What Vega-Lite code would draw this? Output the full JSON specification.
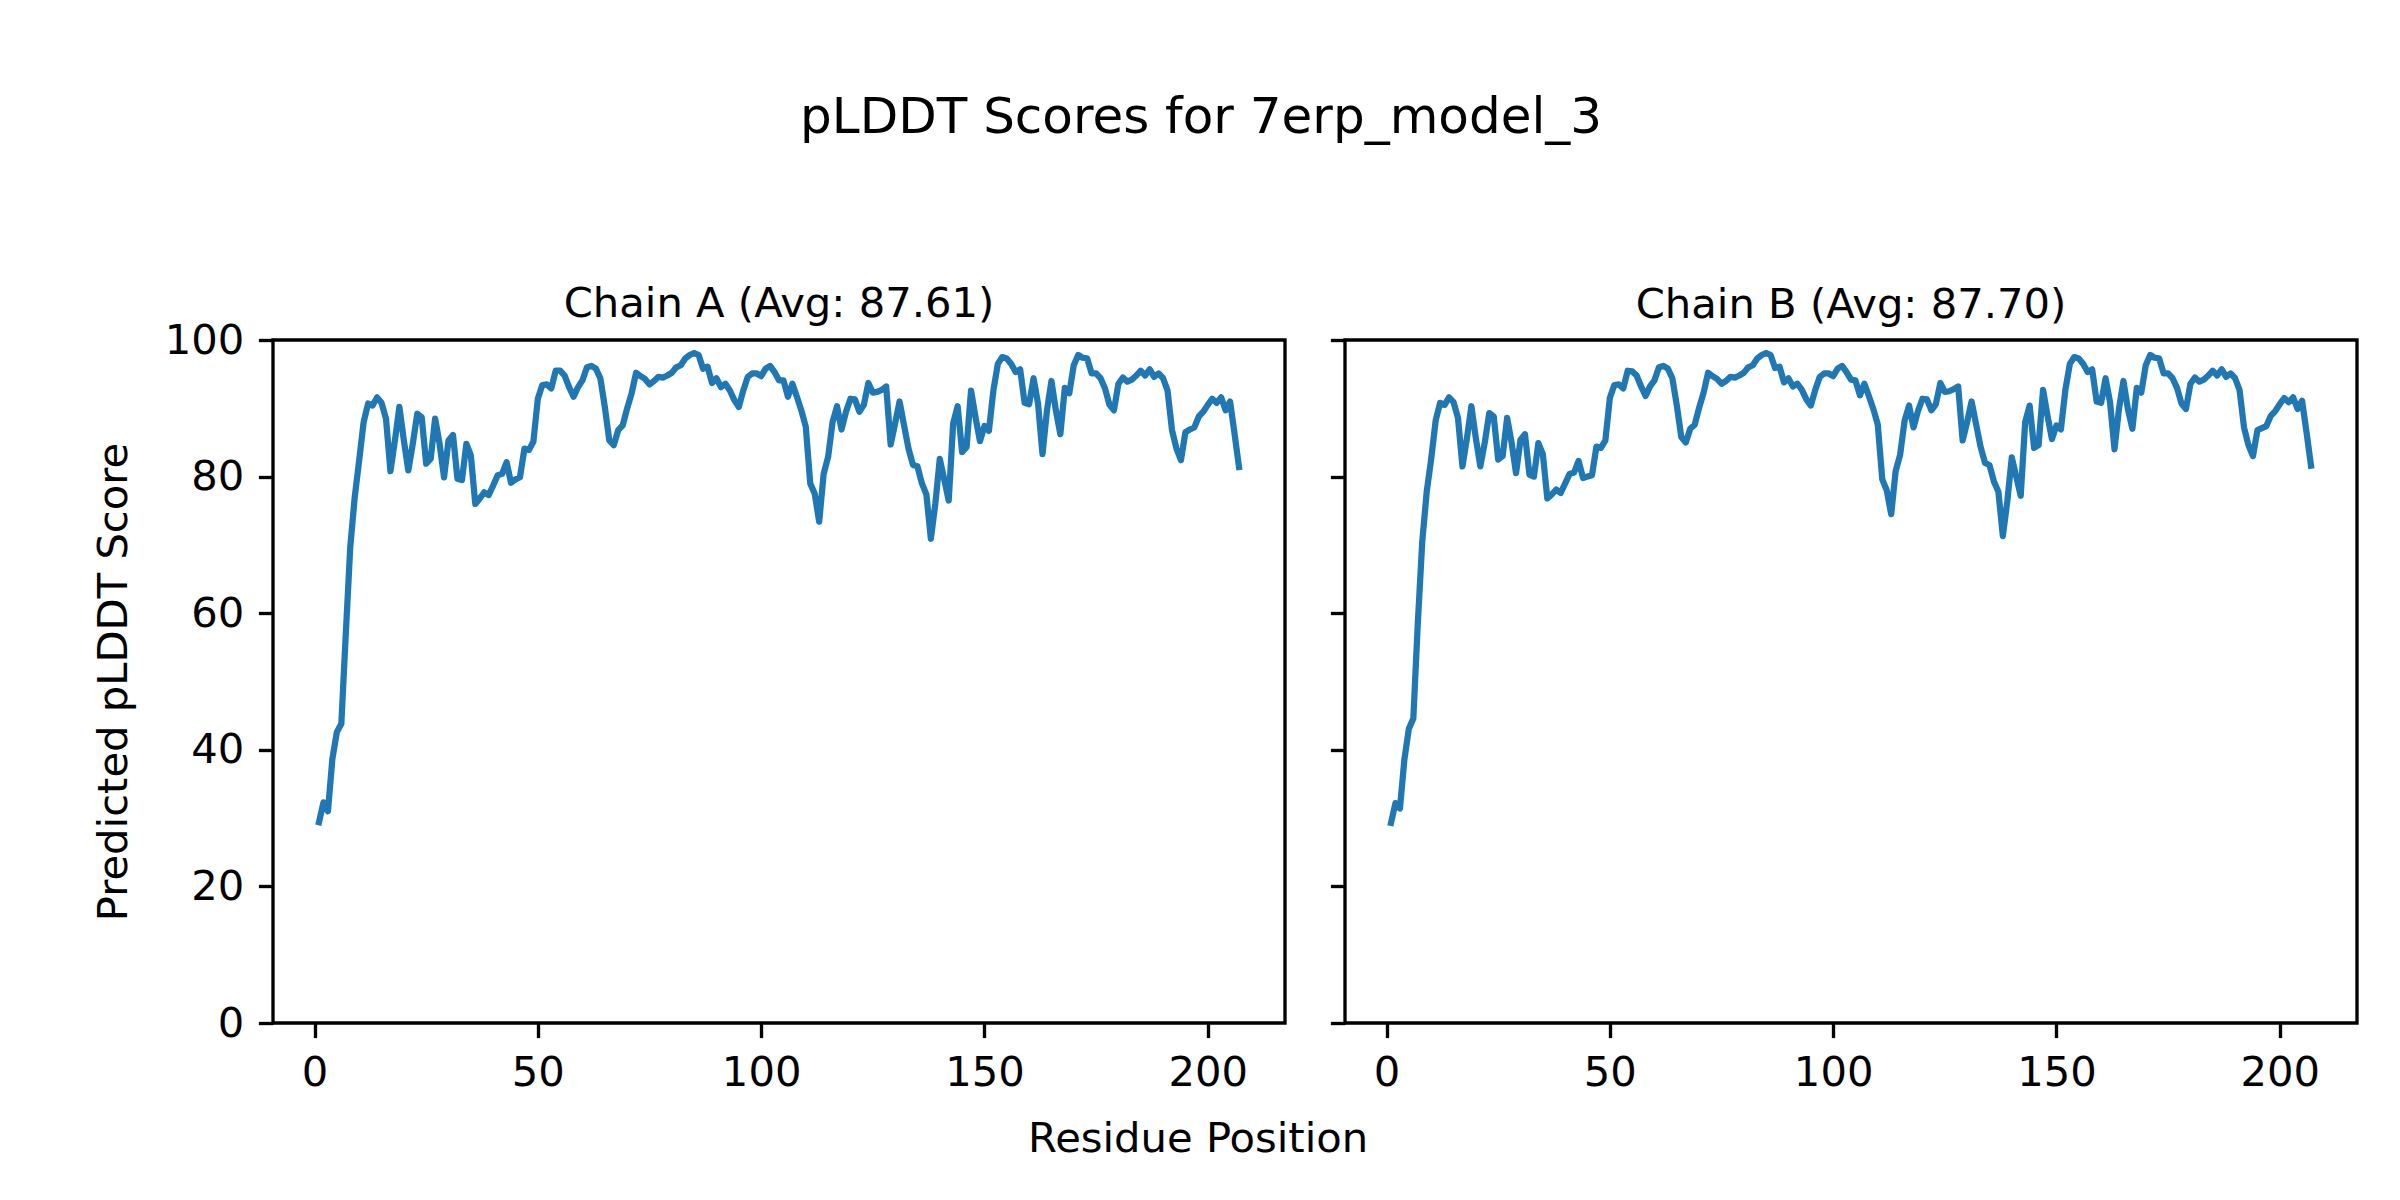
{
  "$schema": "https://vega.github.io/schema/vega-lite/v6.json",
  "background": "white",
  "padding": {"left": 91, "top": 92, "right": 10, "bottom": 10},
  "title": {"text": "pLDDT Scores for 7erp_model_3", "fontSize": 50, "font": "DejaVu Sans", "fontWeight": "normal", "color": "black", "anchor": "middle", "offset": 140, "dx": -24},
  "config": {
    "font": "DejaVu Sans",
    "view": {"stroke": "black", "strokeWidth": 3.33},
    "axis": {"domain": false, "grid": false, "ticks": true, "tickSize": 14.6, "tickWidth": 3.33, "tickColor": "black", "labelFontSize": 41.7, "labelColor": "black", "labelPadding": 14.6, "labelFlush": false, "titleFontSize": 41.7, "titleFontWeight": "normal", "titleColor": "black", "labelFont": "DejaVu Sans", "titleFont": "DejaVu Sans"},
    "title": {"fontSize": 41.7, "fontWeight": "normal", "color": "black", "font": "DejaVu Sans"}
  },
  "datasets": {
    "chainA": [
      {"residue":1,"plddt":29.4},{"residue":2,"plddt":32.3},{"residue":3,"plddt":31.0},{"residue":4,"plddt":38.7},{"residue":5,"plddt":42.6},{"residue":6,"plddt":43.8},{"residue":7,"plddt":57.0},{"residue":8,"plddt":69.7},{"residue":9,"plddt":77.0},{"residue":10,"plddt":82.4},
      {"residue":11,"plddt":88.0},{"residue":12,"plddt":90.7},{"residue":13,"plddt":90.4},{"residue":14,"plddt":91.6},{"residue":15,"plddt":90.8},{"residue":16,"plddt":88.5},{"residue":17,"plddt":80.8},{"residue":18,"plddt":85.3},{"residue":19,"plddt":90.2},{"residue":20,"plddt":85.3},
      {"residue":21,"plddt":80.9},{"residue":22,"plddt":84.8},{"residue":23,"plddt":89.2},{"residue":24,"plddt":88.7},{"residue":25,"plddt":81.9},{"residue":26,"plddt":82.6},{"residue":27,"plddt":88.5},{"residue":28,"plddt":84.8},{"residue":29,"plddt":79.9},{"residue":30,"plddt":85.3},
      {"residue":31,"plddt":86.1},{"residue":32,"plddt":79.7},{"residue":33,"plddt":79.5},{"residue":34,"plddt":84.8},{"residue":35,"plddt":83.1},{"residue":36,"plddt":76.0},{"residue":37,"plddt":76.8},{"residue":38,"plddt":77.7},{"residue":39,"plddt":77.3},{"residue":40,"plddt":78.7},
      {"residue":41,"plddt":80.2},{"residue":42,"plddt":80.4},{"residue":43,"plddt":82.1},{"residue":44,"plddt":79.1},{"residue":45,"plddt":79.6},{"residue":46,"plddt":79.9},{"residue":47,"plddt":84.1},{"residue":48,"plddt":83.9},{"residue":49,"plddt":85.1},{"residue":50,"plddt":91.4},
      {"residue":51,"plddt":93.4},{"residue":52,"plddt":93.5},{"residue":53,"plddt":92.9},{"residue":54,"plddt":95.5},{"residue":55,"plddt":95.5},{"residue":56,"plddt":94.8},{"residue":57,"plddt":93.1},{"residue":58,"plddt":91.7},{"residue":59,"plddt":93.1},{"residue":60,"plddt":94.1},
      {"residue":61,"plddt":96.0},{"residue":62,"plddt":96.2},{"residue":63,"plddt":95.8},{"residue":64,"plddt":94.4},{"residue":65,"plddt":90.2},{"residue":66,"plddt":85.3},{"residue":67,"plddt":84.6},{"residue":68,"plddt":86.8},{"residue":69,"plddt":87.5},{"residue":70,"plddt":90.0},
      {"residue":71,"plddt":92.2},{"residue":72,"plddt":95.2},{"residue":73,"plddt":94.7},{"residue":74,"plddt":94.3},{"residue":75,"plddt":93.5},{"residue":76,"plddt":94.0},{"residue":77,"plddt":94.6},{"residue":78,"plddt":94.5},{"residue":79,"plddt":94.8},{"residue":80,"plddt":95.2},
      {"residue":81,"plddt":96.0},{"residue":82,"plddt":96.3},{"residue":83,"plddt":97.3},{"residue":84,"plddt":97.8},{"residue":85,"plddt":98.1},{"residue":86,"plddt":97.8},{"residue":87,"plddt":95.8},{"residue":88,"plddt":96.1},{"residue":89,"plddt":93.7},{"residue":90,"plddt":94.4},
      {"residue":91,"plddt":93.1},{"residue":92,"plddt":93.6},{"residue":93,"plddt":92.6},{"residue":94,"plddt":91.2},{"residue":95,"plddt":90.2},{"residue":96,"plddt":92.6},{"residue":97,"plddt":94.6},{"residue":98,"plddt":95.1},{"residue":99,"plddt":95.1},{"residue":100,"plddt":94.7},
      {"residue":101,"plddt":95.8},{"residue":102,"plddt":96.2},{"residue":103,"plddt":95.3},{"residue":104,"plddt":94.1},{"residue":105,"plddt":94.1},{"residue":106,"plddt":91.7},{"residue":107,"plddt":93.6},{"residue":108,"plddt":91.7},{"residue":109,"plddt":89.7},{"residue":110,"plddt":87.3},
      {"residue":111,"plddt":79.0},{"residue":112,"plddt":77.5},{"residue":113,"plddt":73.4},{"residue":114,"plddt":80.4},{"residue":115,"plddt":82.9},{"residue":116,"plddt":88.0},{"residue":117,"plddt":90.3},{"residue":118,"plddt":86.9},{"residue":119,"plddt":89.5},{"residue":120,"plddt":91.4},
      {"residue":121,"plddt":91.3},{"residue":122,"plddt":89.5},{"residue":123,"plddt":90.5},{"residue":124,"plddt":93.7},{"residue":125,"plddt":92.3},{"residue":126,"plddt":92.4},{"residue":127,"plddt":92.7},{"residue":128,"plddt":93.2},{"residue":129,"plddt":84.7},{"residue":130,"plddt":87.8},
      {"residue":131,"plddt":91.0},{"residue":132,"plddt":87.5},{"residue":133,"plddt":84.1},{"residue":134,"plddt":81.7},{"residue":135,"plddt":81.5},{"residue":136,"plddt":79.0},{"residue":137,"plddt":77.4},{"residue":138,"plddt":70.9},{"residue":139,"plddt":76.0},{"residue":140,"plddt":82.6},
      {"residue":141,"plddt":79.6},{"residue":142,"plddt":76.5},{"residue":143,"plddt":87.8},{"residue":144,"plddt":90.3},{"residue":145,"plddt":83.6},{"residue":146,"plddt":84.3},{"residue":147,"plddt":92.6},{"residue":148,"plddt":88.7},{"residue":149,"plddt":85.2},{"residue":150,"plddt":87.4},
      {"residue":151,"plddt":86.7},{"residue":152,"plddt":92.6},{"residue":153,"plddt":96.5},{"residue":154,"plddt":97.5},{"residue":155,"plddt":97.3},{"residue":156,"plddt":96.5},{"residue":157,"plddt":95.3},{"residue":158,"plddt":95.7},{"residue":159,"plddt":90.8},{"residue":160,"plddt":90.6},
      {"residue":161,"plddt":94.4},{"residue":162,"plddt":90.7},{"residue":163,"plddt":83.3},{"residue":164,"plddt":89.7},{"residue":165,"plddt":94.0},{"residue":166,"plddt":89.7},{"residue":167,"plddt":86.2},{"residue":168,"plddt":93.0},{"residue":169,"plddt":92.2},{"residue":170,"plddt":96.3},
      {"residue":171,"plddt":97.8},{"residue":172,"plddt":97.4},{"residue":173,"plddt":97.3},{"residue":174,"plddt":95.1},{"residue":175,"plddt":95.1},{"residue":176,"plddt":94.4},{"residue":177,"plddt":92.9},{"residue":178,"plddt":90.5},{"residue":179,"plddt":89.7},{"residue":180,"plddt":93.6},
      {"residue":181,"plddt":94.5},{"residue":182,"plddt":93.9},{"residue":183,"plddt":94.2},{"residue":184,"plddt":94.8},{"residue":185,"plddt":95.5},{"residue":186,"plddt":94.8},{"residue":187,"plddt":95.7},{"residue":188,"plddt":94.6},{"residue":189,"plddt":95.1},{"residue":190,"plddt":94.4},
      {"residue":191,"plddt":92.6},{"residue":192,"plddt":86.8},{"residue":193,"plddt":84.1},{"residue":194,"plddt":82.4},{"residue":195,"plddt":86.5},{"residue":196,"plddt":86.9},{"residue":197,"plddt":87.2},{"residue":198,"plddt":88.8},{"residue":199,"plddt":89.5},{"residue":200,"plddt":90.5},
      {"residue":201,"plddt":91.4},{"residue":202,"plddt":90.8},{"residue":203,"plddt":91.6},{"residue":204,"plddt":89.7},{"residue":205,"plddt":91.0},{"residue":206,"plddt":86.3},{"residue":207,"plddt":81.4}
    ],
    "chainB": [
      {"residue":1,"plddt":29.3},{"residue":2,"plddt":32.2},{"residue":3,"plddt":31.4},{"residue":4,"plddt":38.6},{"residue":5,"plddt":43.1},{"residue":6,"plddt":44.6},{"residue":7,"plddt":58.5},{"residue":8,"plddt":70.5},{"residue":9,"plddt":77.8},{"residue":10,"plddt":82.6},
      {"residue":11,"plddt":88.2},{"residue":12,"plddt":90.8},{"residue":13,"plddt":90.5},{"residue":14,"plddt":91.6},{"residue":15,"plddt":90.9},{"residue":16,"plddt":88.6},{"residue":17,"plddt":81.5},{"residue":18,"plddt":85.6},{"residue":19,"plddt":90.3},{"residue":20,"plddt":85.6},
      {"residue":21,"plddt":81.5},{"residue":22,"plddt":85.0},{"residue":23,"plddt":89.3},{"residue":24,"plddt":88.8},{"residue":25,"plddt":82.5},{"residue":26,"plddt":83.0},{"residue":27,"plddt":88.6},{"residue":28,"plddt":85.0},{"residue":29,"plddt":80.5},{"residue":30,"plddt":85.4},
      {"residue":31,"plddt":86.2},{"residue":32,"plddt":80.3},{"residue":33,"plddt":80.0},{"residue":34,"plddt":84.9},{"residue":35,"plddt":83.3},{"residue":36,"plddt":76.8},{"residue":37,"plddt":77.4},{"residue":38,"plddt":78.1},{"residue":39,"plddt":77.6},{"residue":40,"plddt":79.0},
      {"residue":41,"plddt":80.4},{"residue":42,"plddt":80.6},{"residue":43,"plddt":82.3},{"residue":44,"plddt":79.8},{"residue":45,"plddt":80.0},{"residue":46,"plddt":80.2},{"residue":47,"plddt":84.4},{"residue":48,"plddt":84.2},{"residue":49,"plddt":85.3},{"residue":50,"plddt":91.5},
      {"residue":51,"plddt":93.4},{"residue":52,"plddt":93.5},{"residue":53,"plddt":92.9},{"residue":54,"plddt":95.5},{"residue":55,"plddt":95.4},{"residue":56,"plddt":94.8},{"residue":57,"plddt":93.2},{"residue":58,"plddt":91.8},{"residue":59,"plddt":93.2},{"residue":60,"plddt":94.1},
      {"residue":61,"plddt":96.0},{"residue":62,"plddt":96.2},{"residue":63,"plddt":95.8},{"residue":64,"plddt":94.4},{"residue":65,"plddt":90.4},{"residue":66,"plddt":85.8},{"residue":67,"plddt":85.0},{"residue":68,"plddt":87.0},{"residue":69,"plddt":87.6},{"residue":70,"plddt":90.1},
      {"residue":71,"plddt":92.3},{"residue":72,"plddt":95.2},{"residue":73,"plddt":94.7},{"residue":74,"plddt":94.3},{"residue":75,"plddt":93.6},{"residue":76,"plddt":94.0},{"residue":77,"plddt":94.6},{"residue":78,"plddt":94.5},{"residue":79,"plddt":94.8},{"residue":80,"plddt":95.2},
      {"residue":81,"plddt":96.0},{"residue":82,"plddt":96.3},{"residue":83,"plddt":97.3},{"residue":84,"plddt":97.8},{"residue":85,"plddt":98.1},{"residue":86,"plddt":97.8},{"residue":87,"plddt":95.9},{"residue":88,"plddt":96.1},{"residue":89,"plddt":93.8},{"residue":90,"plddt":94.4},
      {"residue":91,"plddt":93.2},{"residue":92,"plddt":93.6},{"residue":93,"plddt":92.7},{"residue":94,"plddt":91.3},{"residue":95,"plddt":90.4},{"residue":96,"plddt":92.7},{"residue":97,"plddt":94.6},{"residue":98,"plddt":95.1},{"residue":99,"plddt":95.1},{"residue":100,"plddt":94.7},
      {"residue":101,"plddt":95.8},{"residue":102,"plddt":96.2},{"residue":103,"plddt":95.3},{"residue":104,"plddt":94.2},{"residue":105,"plddt":94.1},{"residue":106,"plddt":91.9},{"residue":107,"plddt":93.6},{"residue":108,"plddt":91.8},{"residue":109,"plddt":89.9},{"residue":110,"plddt":87.6},
      {"residue":111,"plddt":79.6},{"residue":112,"plddt":78.0},{"residue":113,"plddt":74.5},{"residue":114,"plddt":80.8},{"residue":115,"plddt":83.2},{"residue":116,"plddt":88.2},{"residue":117,"plddt":90.4},{"residue":118,"plddt":87.2},{"residue":119,"plddt":89.6},{"residue":120,"plddt":91.4},
      {"residue":121,"plddt":91.3},{"residue":122,"plddt":89.7},{"residue":123,"plddt":90.6},{"residue":124,"plddt":93.7},{"residue":125,"plddt":92.4},{"residue":126,"plddt":92.5},{"residue":127,"plddt":92.8},{"residue":128,"plddt":93.2},{"residue":129,"plddt":85.3},{"residue":130,"plddt":88.0},
      {"residue":131,"plddt":91.0},{"residue":132,"plddt":87.7},{"residue":133,"plddt":84.4},{"residue":134,"plddt":82.0},{"residue":135,"plddt":81.7},{"residue":136,"plddt":79.3},{"residue":137,"plddt":77.8},{"residue":138,"plddt":71.3},{"residue":139,"plddt":76.4},{"residue":140,"plddt":82.8},
      {"residue":141,"plddt":80.0},{"residue":142,"plddt":77.2},{"residue":143,"plddt":88.0},{"residue":144,"plddt":90.4},{"residue":145,"plddt":84.2},{"residue":146,"plddt":84.6},{"residue":147,"plddt":92.7},{"residue":148,"plddt":88.9},{"residue":149,"plddt":85.5},{"residue":150,"plddt":87.5},
      {"residue":151,"plddt":86.9},{"residue":152,"plddt":92.7},{"residue":153,"plddt":96.5},{"residue":154,"plddt":97.5},{"residue":155,"plddt":97.3},{"residue":156,"plddt":96.5},{"residue":157,"plddt":95.3},{"residue":158,"plddt":95.7},{"residue":159,"plddt":91.0},{"residue":160,"plddt":90.8},
      {"residue":161,"plddt":94.4},{"residue":162,"plddt":90.9},{"residue":163,"plddt":84.0},{"residue":164,"plddt":89.9},{"residue":165,"plddt":94.0},{"residue":166,"plddt":89.9},{"residue":167,"plddt":87.0},{"residue":168,"plddt":93.0},{"residue":169,"plddt":92.3},{"residue":170,"plddt":96.3},
      {"residue":171,"plddt":97.8},{"residue":172,"plddt":97.4},{"residue":173,"plddt":97.3},{"residue":174,"plddt":95.1},{"residue":175,"plddt":95.1},{"residue":176,"plddt":94.4},{"residue":177,"plddt":93.0},{"residue":178,"plddt":90.7},{"residue":179,"plddt":89.9},{"residue":180,"plddt":93.6},
      {"residue":181,"plddt":94.5},{"residue":182,"plddt":93.9},{"residue":183,"plddt":94.2},{"residue":184,"plddt":94.8},{"residue":185,"plddt":95.5},{"residue":186,"plddt":94.8},{"residue":187,"plddt":95.7},{"residue":188,"plddt":94.6},{"residue":189,"plddt":95.1},{"residue":190,"plddt":94.4},
      {"residue":191,"plddt":92.7},{"residue":192,"plddt":87.2},{"residue":193,"plddt":84.6},{"residue":194,"plddt":83.0},{"residue":195,"plddt":86.8},{"residue":196,"plddt":87.1},{"residue":197,"plddt":87.4},{"residue":198,"plddt":88.9},{"residue":199,"plddt":89.6},{"residue":200,"plddt":90.6},
      {"residue":201,"plddt":91.5},{"residue":202,"plddt":90.9},{"residue":203,"plddt":91.6},{"residue":204,"plddt":89.9},{"residue":205,"plddt":91.1},{"residue":206,"plddt":86.5},{"residue":207,"plddt":81.6}
    ]
  },
  "vconcat": [
    {
      "title": {"text": "Residue Position", "orient": "bottom", "anchor": "middle", "fontSize": 41.7, "fontWeight": "normal", "color": "black", "offset": 23, "dx": -27},
      "spacing": 40,
      "hconcat": [
        {
          "width": 1012,
          "height": 683,
          "data": {"name": "chainA"},
          "title": {"text": "Chain A (Avg: 87.61)", "anchor": "middle", "offset": -6},
          "mark": {"type": "line", "color": "#1f77b4", "strokeWidth": 6.25, "strokeJoin": "round", "strokeCap": "square"},
          "encoding": {
            "x": {"field": "residue", "type": "quantitative", "scale": {"domain": [-9.3, 217.3], "nice": false, "zero": false}, "axis": {"values": [0, 50, 100, 150, 200], "title": null}},
            "y": {"field": "plddt", "type": "quantitative", "scale": {"domain": [0, 100], "nice": false}, "axis": {"values": [0, 20, 40, 60, 80, 100], "title": "Predicted pLDDT Score", "titlePadding": 29}}
          }
        },
        {
          "width": 1012,
          "height": 683,
          "data": {"name": "chainB"},
          "title": {"text": "Chain B (Avg: 87.70)", "anchor": "middle", "offset": 12},
          "mark": {"type": "line", "color": "#1f77b4", "strokeWidth": 6.25, "strokeJoin": "round", "strokeCap": "square"},
          "encoding": {
            "x": {"field": "residue", "type": "quantitative", "scale": {"domain": [-9.3, 217.3], "nice": false, "zero": false}, "axis": {"values": [0, 50, 100, 150, 200], "title": null}},
            "y": {"field": "plddt", "type": "quantitative", "scale": {"domain": [0, 100], "nice": false}, "axis": {"values": [0, 20, 40, 60, 80, 100], "title": null, "labels": false}}
          }
        }
      ]
    }
  ]
}
